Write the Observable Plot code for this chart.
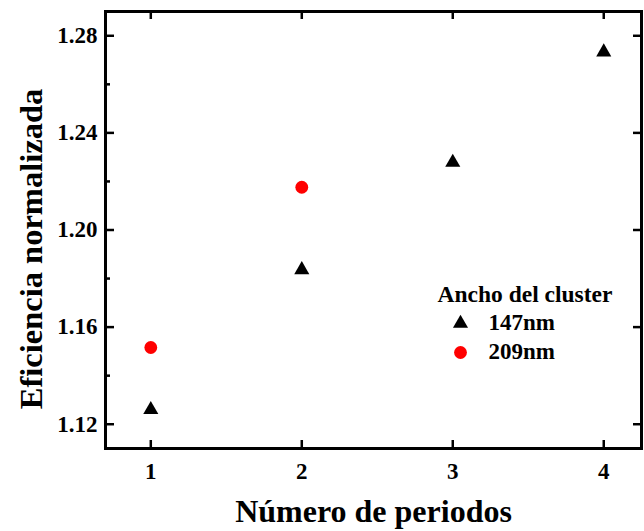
<!DOCTYPE html>
<html>
<head>
<meta charset="utf-8">
<script src="https://cdn.jsdelivr.net/npm/d3@7"></script>
<script src="https://cdn.jsdelivr.net/npm/@observablehq/plot@0.6"></script>
<style>
  html, body { margin: 0; padding: 0; background: #fff; }
  #chart svg { display: block; }
  #chart svg text { font-family: "Liberation Serif", "Times New Roman", "DejaVu Serif", serif !important; font-weight: bold !important; }
</style>
</head>
<body>
<div id="chart"></div>
<script>
// ---- data ----
const xTicks = [1, 2, 3, 4];
const yTicks = [1.12, 1.16, 1.20, 1.24, 1.28];
const yMinorTicks = [1.14, 1.18, 1.22, 1.26];
const periods147 = [1, 2, 3, 4];
const eff147 = [1.126, 1.1836, 1.2278, 1.2733];
const periods209 = [1, 2];
const eff209 = [1.1516, 1.2176];
const seriesNames = ["147nm", "209nm"];
const legendTitle = "Ancho del cluster";
const xLabel = "Número de periodos";
const yLabel = "Eficiencia normalizada";

// ---- layout ----
const W = 644, H = 531;
const mL = 105, mR = 3, mT = 11, mB = 83;
const pw = W - mL - mR, ph = H - mT - mB;
const font = "Liberation Serif";
const red = "#ff0000";

const data147 = periods147.map((p, i) => ({x: p, y: eff147[i]}));
const data209 = periods209.map((p, i) => ({x: p, y: eff209[i]}));
const legendData = seriesNames.map((name, i) => ({
  name, symbol: i === 0 ? "triangle" : "circle", fill: i === 0 ? "#000" : red,
  r: i === 0 ? 5.6 : 6.4, dy: 312 + i * 29
}));

const chart = Plot.plot({
  width: W, height: H,
  marginLeft: mL, marginRight: mR, marginTop: mT, marginBottom: mB,
  style: {fontFamily: font, fontWeight: "bold", fontSize: "23px", color: "#000", background: "#fff"},
  x: {domain: [0.7, 4.25]},
  y: {domain: [1.11, 1.29]},
  marks: [
    // tick labels
    Plot.axisX(xTicks, {tickSize: 0, tickPadding: 14, tickFormat: d3.format("d"), label: null, fontSize: 23, fontWeight: "bold", fontFamily: font}),
    Plot.axisY(yTicks, {tickSize: 0, tickPadding: 8, tickFormat: d3.format(".2f"), label: null, fontSize: 23, fontWeight: "bold", fontFamily: font}),
    // inward ticks
    Plot.tickY(yTicks, {y: d => d, insetRight: pw - 9, strokeWidth: 2.5, stroke: "#000"}),
    Plot.tickY(yMinorTicks, {y: d => d, insetRight: pw - 5, strokeWidth: 2.5, stroke: "#000"}),
    Plot.tickY(yTicks, {y: d => d, insetLeft: pw - 8, strokeWidth: 2.5, stroke: "#000"}),
    Plot.tickX(xTicks, {x: d => d, insetTop: ph - 8, strokeWidth: 2.5, stroke: "#000"}),
    Plot.tickX(xTicks, {x: d => d, insetBottom: ph - 8, strokeWidth: 2.5, stroke: "#000"}),
    Plot.frame({stroke: "#000", strokeWidth: 3}),
    // data
    Plot.dot(data147, {x: "x", y: "y", symbol: "triangle", r: 5.6, fill: "#000", stroke: "none"}),
    Plot.dot(data209, {x: "x", y: "y", symbol: "circle", r: 6.4, fill: red, stroke: "none"}),
    // axis titles
    Plot.text([xLabel], {text: d => d, frameAnchor: "bottom", textAnchor: "middle", lineAnchor: "top", dy: 51, fontSize: 32, fontWeight: "bold", fontFamily: font}),
    Plot.text([yLabel], {text: d => d, frameAnchor: "left", textAnchor: "middle", rotate: -90, lineAnchor: "middle", dx: -73.5, dy: 19, fontSize: 32.5, fontWeight: "bold", fontFamily: font}),
    // legend
    Plot.text([legendTitle], {text: d => d, frameAnchor: "top-left", textAnchor: "start", lineAnchor: "middle", dx: 332, dy: 282.5, fontSize: 23.5, fontWeight: "bold", fontFamily: font}),
    ...legendData.map(e => Plot.dot([e], {frameAnchor: "top-left", symbol: e.symbol, r: e.r, fill: e.fill, stroke: "none", dx: 355, dy: e.dy})),
    ...legendData.map(e => Plot.text([e], {text: "name", frameAnchor: "top-left", textAnchor: "start", lineAnchor: "middle", dx: 383, dy: e.dy - 0.5, fontSize: 23, fontWeight: "bold", fontFamily: font}))
  ]
});
document.getElementById("chart").appendChild(chart);
</script>
</body>
</html>
